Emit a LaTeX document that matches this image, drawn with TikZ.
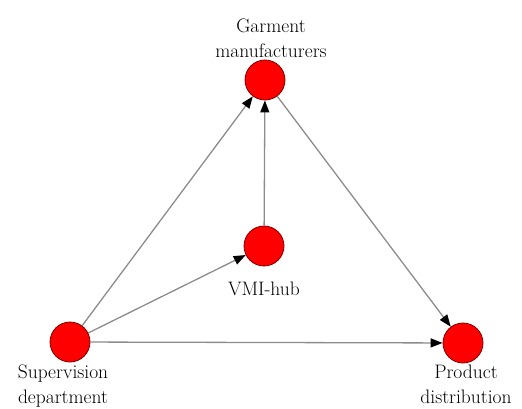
\documentclass[tikz,border=0pt]{standalone}
\usetikzlibrary{arrows.meta}
\begin{document}
\begin{tikzpicture}[x=1pt,y=-1pt,
  vert/.style={circle,fill=red,draw=red!50!black,line width=0.8pt,minimum size=40pt,inner sep=0pt},
  lbl/.style={font=\fontsize{19.5}{25}\selectfont,align=center,inner sep=0pt},
  edge/.style={draw=black!45,line width=1.3pt,-{Triangle[length=12pt,width=9pt,fill=black,color=black]}}]
\useasboundingbox (0,0) rectangle (522,409);
\node[vert] (g) at (265,80) {};
\node[vert] (v) at (264,246) {};
\node[vert] (s) at (70,342) {};
\node[vert] (p) at (463,343) {};
\node[lbl,anchor=south] (gl) at (271,58) {Garment\\manufacturers};
\node[lbl,anchor=north] (vl) at (264,282) {VMI-hub};
\node[lbl,anchor=north] (sl) at (63,365) {Supervision\\department};
\node[lbl,anchor=north] (pl) at (466,365) {Product\\distribution};
\draw[edge] (s) -- (g);
\draw[edge] (s) -- (v);
\draw[edge] (s) -- (p);
\draw[edge] (v) -- (g);
\draw[edge] (g) -- (p);
\end{tikzpicture}
\end{document}
